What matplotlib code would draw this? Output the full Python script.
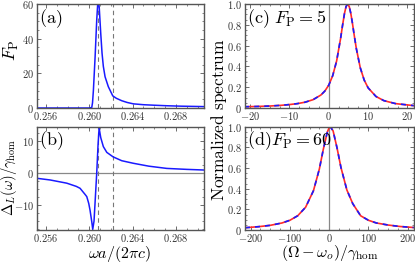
import matplotlib
matplotlib.use("Agg")
import matplotlib.pyplot as plt
from matplotlib.ticker import MultipleLocator

plt.rcParams['mathtext.fontset'] = 'cm'
plt.rcParams['font.family'] = ['Liberation Serif', 'DejaVu Serif']

# ---------------- data ----------------
# (a) Purcell factor vs frequency
fp_x = [0.2552, 0.2590, 0.2600, 0.26023, 0.26030, 0.26038, 0.26054, 0.26069, 0.26078,
        0.26084, 0.26092, 0.26106, 0.26118, 0.26130, 0.26146, 0.26176, 0.26217, 0.2625,
        0.2630, 0.2635, 0.26407, 0.2650, 0.2660, 0.26716, 0.2685, 0.27023, 0.2706]
fp_y = [0.0, 0.0, 0.0, 0.3, 3.0, 10.0, 29.6, 50.8, 60.0,
        63.0, 58.0, 43.0, 31.6, 24.0, 18.0, 12.3, 7.0, 5.6,
        4.2, 3.2, 2.4, 1.9, 1.6, 1.3, 1.05, 0.85, 0.8]

# (b) Lamb shift vs frequency
dl_x = [0.2552, 0.25638, 0.25792, 0.25880, 0.25915, 0.25961, 0.25977, 0.25995, 0.26007,
        0.26023, 0.26032, 0.26044, 0.26056, 0.26069, 0.26081, 0.26091, 0.26106, 0.26130,
        0.26162, 0.2622, 0.2630, 0.26407, 0.2655, 0.26716, 0.2690, 0.2706]
dl_y = [-1.7, -2.2, -3.2, -4.2, -4.8, -6.7, -7.4, -9.5, -11.6,
        -15.2, -17.6, -15.0, -7.8, 0.0, 8.7, 14.0, 11.0, 8.2,
        6.4, 5.0, 3.8, 3.0, 2.1, 1.4, 1.1, 0.9]

# vertical dashed markers in (a),(b)
mark_x = [0.26084, 0.26217]

# (c) normalized spectrum, F_P = 5
c_x = [-21.5, -18, -15, -12, -10, -8, -6, -4, -2, -1, 0, 1, 2, 3, 3.5, 4, 4.4, 4.8,
       5.2, 5.6, 6, 6.5, 7, 8, 9, 10, 12, 14, 17, 21.6]
c_y = [0.012, 0.015, 0.019, 0.026, 0.033, 0.042, 0.056, 0.080, 0.125, 0.163, 0.220,
       0.311, 0.453, 0.667, 0.794, 0.910, 0.976, 1.0, 0.976, 0.910, 0.819, 0.692,
       0.573, 0.388, 0.269, 0.194, 0.111, 0.071, 0.042, 0.023]

# (d) normalized spectrum, F_P = 60
d_x = [-214, -180, -150, -120, -100, -80, -60, -40, -25, -15, -5, 0, 3, 10, 20, 30,
       45, 60, 80, 100, 120, 150, 180, 215]
d_y = [0.022, 0.032, 0.045, 0.068, 0.094, 0.138, 0.220, 0.380, 0.590, 0.780, 0.945,
       0.992, 1.0, 0.960, 0.795, 0.605, 0.388, 0.255, 0.138, 0.094, 0.068, 0.048,
       0.034, 0.024]

ab_xticks = [0.256, 0.260, 0.264, 0.268]
ab_xticklabels = ['0.256', '0.260', '0.264', '0.268']
a_yticks = [0, 20, 40, 60]
b_yticks = [-10, 0, 10]
spec_yticks = [0, 0.2, 0.4, 0.6, 0.8, 1.0]
spec_yticklabels = ['0', '0.2', '0.4', '0.6', '0.8', '1.0']
c_xticks = [-20, -10, 0, 10, 20]
d_xticks = [-200, -100, 0, 100, 200]

BLUE = '#1a1aff'
RED = '#ff2a2a'
FRAME = '#555555'

fig = plt.figure(figsize=(4.15, 2.64), dpi=100)

def frame(ax):
    for s in ax.spines.values():
        s.set_color(FRAME)
        s.set_linewidth(1.0)
    ax.tick_params(which='both', direction='in', top=True, right=True,
                   colors='#333333', labelsize=7.5, pad=1.5)
    ax.tick_params(axis='y', which='both', pad=2.5)
    ax.tick_params(which='major', length=3, width=0.6, color=FRAME)
    ax.tick_params(which='minor', length=1.6, width=0.5, color=FRAME)

def mathlabels(vals):
    return ['$' + str(v) + '$' for v in vals]

axa = fig.add_axes([0.0899, 0.5909, 0.4017, 0.394])
axb = fig.add_axes([0.0899, 0.1288, 0.4017, 0.390])
axc = fig.add_axes([0.5904, 0.5909, 0.4065, 0.394])
axd = fig.add_axes([0.5904, 0.1288, 0.4065, 0.391])

# (a)
for xm in mark_x:
    axa.axvline(xm, color='#777777', ls=(0, (4, 3)), lw=0.8)
axa.plot(fp_x, fp_y, color=BLUE, lw=1.1)
axa.set_xlim(0.2552, 0.2706)
axa.set_ylim(0, 60)
axa.set_xticks(ab_xticks, mathlabels(ab_xticklabels))
axa.set_yticks(a_yticks, mathlabels(a_yticks))
axa.xaxis.set_minor_locator(MultipleLocator(0.001))
axa.yaxis.set_minor_locator(MultipleLocator(5))
frame(axa)
axa.text(0.012, 0.965, r'$\mathrm{(a)}$', transform=axa.transAxes, fontsize=13, va='top', ha='left')

# (b)
axb.axhline(0, color='#888888', lw=0.9)
for xm in mark_x:
    axb.axvline(xm, color='#777777', ls=(0, (4, 3)), lw=0.8)
axb.plot(dl_x, dl_y, color=BLUE, lw=1.1)
axb.set_xlim(0.2552, 0.2706)
axb.set_ylim(-17.8, 14.3)
axb.set_xticks(ab_xticks, mathlabels(ab_xticklabels))
axb.set_yticks(b_yticks, mathlabels(b_yticks))
axb.xaxis.set_minor_locator(MultipleLocator(0.001))
axb.yaxis.set_minor_locator(MultipleLocator(2.5))
frame(axb)
axb.text(0.012, 0.975, r'$\mathrm{(b)}$', transform=axb.transAxes, fontsize=13, va='top', ha='left')

# (c)
axc.axvline(0, color='#888888', lw=0.9)
axc.plot(c_x, c_y, color=RED, lw=1.2)
axc.plot(c_x, c_y, color=BLUE, lw=1.2, ls=(0, (3, 3)))
axc.set_xlim(-21.3, 21.6)
axc.set_ylim(0, 1.0)
axc.set_xticks(c_xticks, mathlabels(c_xticks))
axc.set_yticks(spec_yticks, mathlabels(spec_yticklabels))
axc.xaxis.set_minor_locator(MultipleLocator(2.5))
axc.yaxis.set_minor_locator(MultipleLocator(0.05))
frame(axc)
axc.text(0.012, 0.965, r'$\mathrm{(c)}\ F_\mathrm{P}=5$', transform=axc.transAxes,
         fontsize=13, va='top', ha='left')

# (d)
axd.axvline(0, color='#888888', lw=0.9)
axd.plot(d_x, d_y, color=RED, lw=1.2)
axd.plot(d_x, d_y, color=BLUE, lw=1.2, ls=(0, (3, 3)))
axd.set_xlim(-214, 215)
axd.set_ylim(0, 1.0)
axd.set_xticks(d_xticks, mathlabels(d_xticks))
axd.set_yticks(spec_yticks, mathlabels(spec_yticklabels))
axd.xaxis.set_minor_locator(MultipleLocator(25))
axd.yaxis.set_minor_locator(MultipleLocator(0.05))
frame(axd)
axd.text(0.012, 0.975, r'$\mathrm{(d)}F_\mathrm{P}=60$', transform=axd.transAxes,
         fontsize=13, va='top', ha='left')

# axis labels placed in figure coordinates
fig.text(11 / 415, 1 - 50 / 264, r'$F_\mathrm{P}$', rotation=90, fontsize=13,
         ha='center', va='center')
fig.text(9 / 415, 1 - 177 / 264, r'$\Delta_L(\omega)/\gamma_\mathrm{hom}$', rotation=90,
         fontsize=10.5, ha='center', va='center')
fig.text(120 / 415, 1 - 257.5 / 264, r'$\omega a/(2\pi c)$', fontsize=11.5,
         ha='center', va='baseline')
fig.text(330 / 415, 1 - 257 / 264, r'$(\Omega-\omega_o)/\gamma_\mathrm{hom}$', fontsize=11.5,
         ha='center', va='baseline')
fig.text(219 / 415, 1 - 120 / 264, r'$\mathrm{Normalized\ spectrum}$', rotation=90,
         fontsize=12.5, ha='center', va='center')

fig.savefig('out.png', dpi=100)
